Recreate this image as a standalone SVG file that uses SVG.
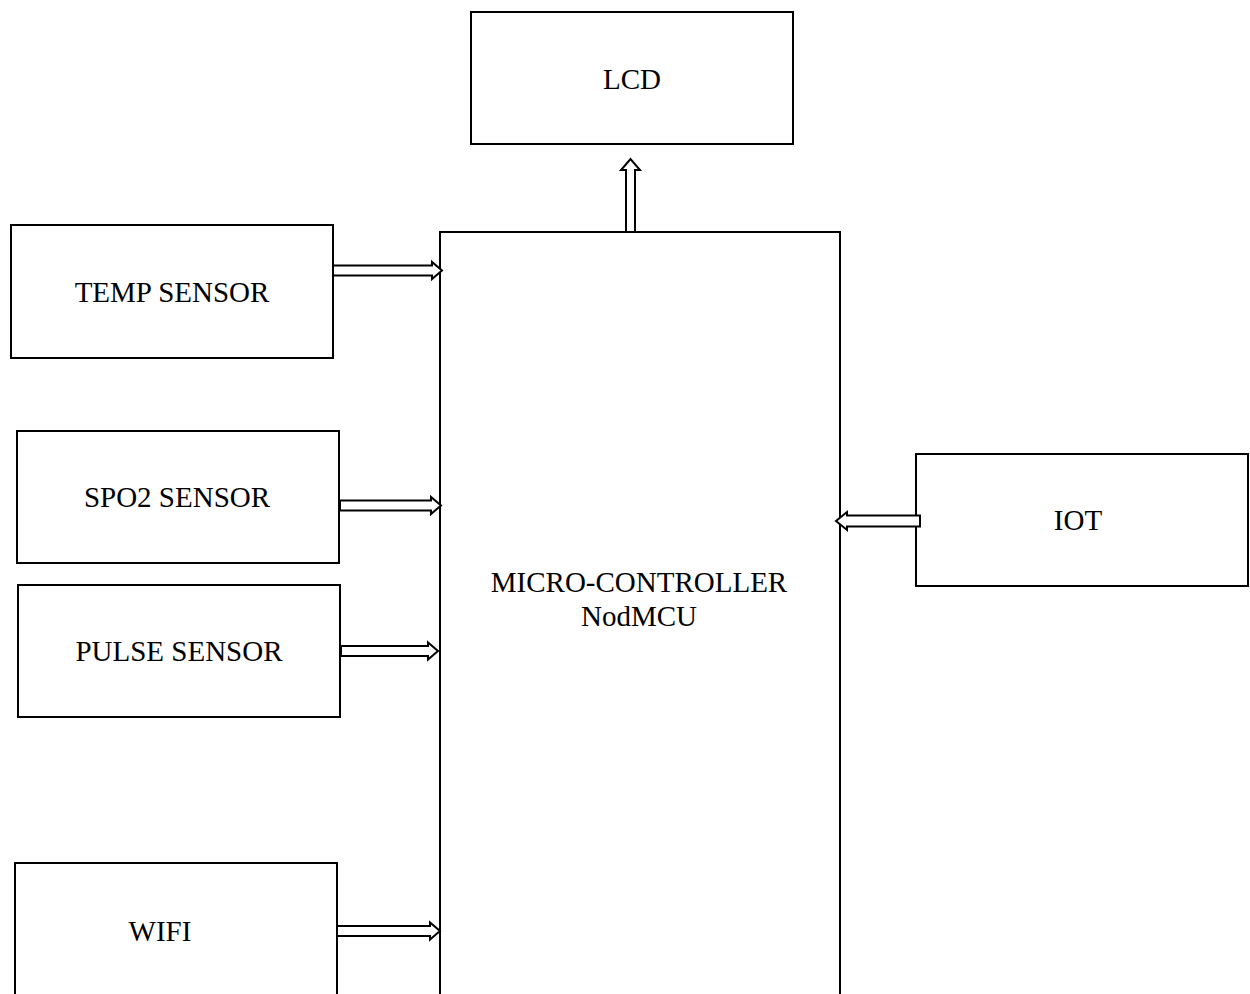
<svg xmlns="http://www.w3.org/2000/svg" width="1250" height="994" viewBox="0 0 1250 994">
<style>
.box{fill:#fff;stroke:#000;stroke-width:2}
.arr{fill:#fff;stroke:#000;stroke-width:2;stroke-linejoin:miter}
text{font-family:"Liberation Serif","Times New Roman",serif;font-size:29px;fill:#000;text-anchor:middle}
</style>
<rect width="1250" height="994" fill="#fff"/>
<g id="lcd"><rect class="box" x="471" y="12" width="322" height="132"/><text x="632" y="89">LCD</text></g>
<g id="mcu"><rect class="box" x="440" y="232" width="400" height="780"/><text x="639" y="592">MICRO-CONTROLLER</text><text x="639" y="626">NodMCU</text></g>
<g id="temp"><rect class="box" x="11" y="225" width="322" height="133"/><text x="172" y="302">TEMP SENSOR</text></g>
<g id="spo2"><rect class="box" x="17" y="431" width="322" height="132"/><text x="177" y="507">SPO2 SENSOR</text></g>
<g id="pulse"><rect class="box" x="18" y="585" width="322" height="132"/><text x="179" y="661">PULSE SENSOR</text></g>
<g id="wifi"><rect class="box" x="15" y="863" width="322" height="150"/><text x="160" y="941">WIFI</text></g>
<g id="iot"><rect class="box" x="916" y="454" width="332" height="132"/><text x="1078" y="530">IOT</text></g>
<g id="connectors">
<path class="arr" d="M333,265.5 H432 V262 L442,270.5 L432,279 V275.5 H333 Z"/>
<path class="arr" d="M340,500.5 H431 V497 L441,505.5 L431,514 V510.5 H340 Z"/>
<path class="arr" d="M341,646 H428 V642.5 L438,651 L428,659.5 V656 H341 Z"/>
<path class="arr" d="M337,926 H430 V922.5 L440,931 L430,939.5 V936 H337 Z"/>
<path class="arr" d="M920,515.5 H847 V512 L836,521 L847,530 V526.5 H920 Z"/>
<path class="arr" d="M626,232 V170 H621 L630.5,159 L640,170 H635 V232 Z"/>
</g>
</svg>
